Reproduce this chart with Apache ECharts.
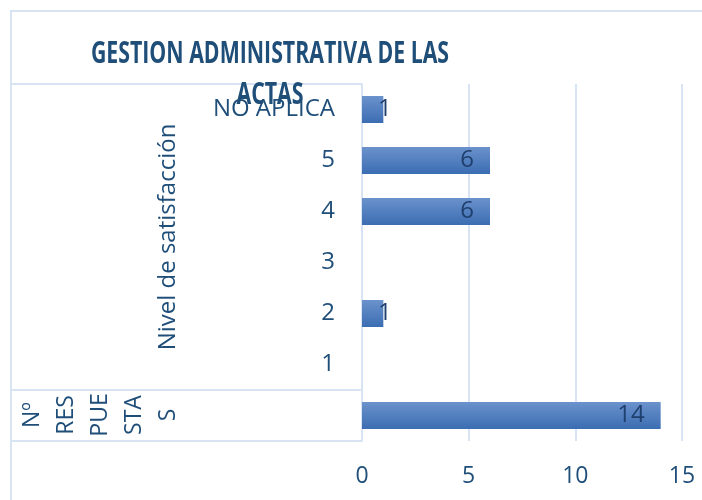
<!DOCTYPE html>
<html>
<head>
<meta charset="utf-8">
<script src="https://cdn.jsdelivr.net/npm/echarts@6/dist/echarts.min.js"></script>
<style>html,body{margin:0;padding:0;background:#fff}#c{width:702px;height:500px}</style>
</head>
<body>
<div id="c"></div>
<script>
// Categories listed bottom-to-top
const categories = ['', '1', '2', '3', '4', '5', 'NO APLICA'];
const values = [14, null, 1, null, 6, 6, 1];
const xTicks = [0, 5, 10, 15];
const titleLines = ['GESTION ADMINISTRATIVA DE LAS', 'ACTAS'];
const groupTitleMain = 'Nivel de satisfacción';
const groupTitleCount = 'Nº\nRES\nPUE\nSTA\nS';

const FONT = '"Open Sans", sans-serif';
const TXT = '#1f4e79';
const LINE = '#d8e4f4';

const chart = echarts.init(document.getElementById('c'), null, {renderer: 'canvas'});

const seriesData = values.map(v => v === null ? null : {
  value: v,
  label: v < 3 ? {position: 'insideLeft', distance: 16} : {}
});

function hLine(x1, x2, y) {
  return {type: 'line', shape: {x1: x1, y1: y, x2: x2, y2: y}, style: {stroke: LINE, lineWidth: 2}, silent: true};
}

chart.setOption({
  animation: false,
  backgroundColor: '#fff',
  grid: {left: 362, right: 20, top: 84, bottom: 59, containLabel: false},
  xAxis: {
    type: 'value', min: xTicks[0], max: xTicks[xTicks.length - 1], interval: xTicks[1] - xTicks[0],
    axisLine: {show: false}, axisTick: {show: false},
    splitLine: {show: true, lineStyle: {color: LINE, width: 2}},
    axisLabel: {color: TXT, fontFamily: FONT, fontSize: 23, margin: 24}
  },
  yAxis: {
    type: 'category', data: categories,
    axisLine: {show: true, lineStyle: {color: LINE, width: 2}},
    axisTick: {show: false},
    axisLabel: {color: TXT, fontFamily: FONT, fontSize: 24, margin: 27}
  },
  series: [{
    type: 'bar',
    data: seriesData,
    barWidth: 27,
    itemStyle: {
      color: new echarts.graphic.LinearGradient(0, 0, 0, 1, [
        {offset: 0, color: '#6b92cc'},
        {offset: 1, color: '#3b6db2'}
      ])
    },
    label: {
      show: true, position: 'insideRight', distance: 16,
      color: '#1f3f6e', fontFamily: FONT, fontSize: 24
    }
  }],
  graphic: [
    hLine(11, 702, 11),
    {type: 'line', shape: {x1: 11, y1: 10, x2: 11, y2: 500}, style: {stroke: LINE, lineWidth: 2}, silent: true},
    hLine(11, 362, 84),
    hLine(11, 362, 390),
    hLine(11, 362, 441),
    {type: 'text', x: 270, y: 54, scaleX: 0.71, z: 100,
      style: {text: titleLines[0], fill: TXT, font: 'bold 30px ' + FONT, textAlign: 'center', textVerticalAlign: 'middle', verticalAlign: 'middle'}},
    {type: 'text', x: 270, y: 95, scaleX: 0.71, z: 100,
      style: {text: titleLines[1], fill: TXT, font: 'bold 30px ' + FONT, textAlign: 'center', textVerticalAlign: 'middle', verticalAlign: 'middle'}},
    {type: 'text', x: 168, y: 237, rotation: Math.PI / 2,
      style: {text: groupTitleMain, fill: TXT, font: '24px ' + FONT, textAlign: 'center', textVerticalAlign: 'middle', verticalAlign: 'middle'}},
    {type: 'text', x: 100, y: 415, rotation: Math.PI / 2,
      style: {text: groupTitleCount, fill: TXT, font: '23px ' + FONT, lineHeight: 34, textAlign: 'center', textVerticalAlign: 'middle', verticalAlign: 'middle'}}
  ]
});
</script>
</body>
</html>
